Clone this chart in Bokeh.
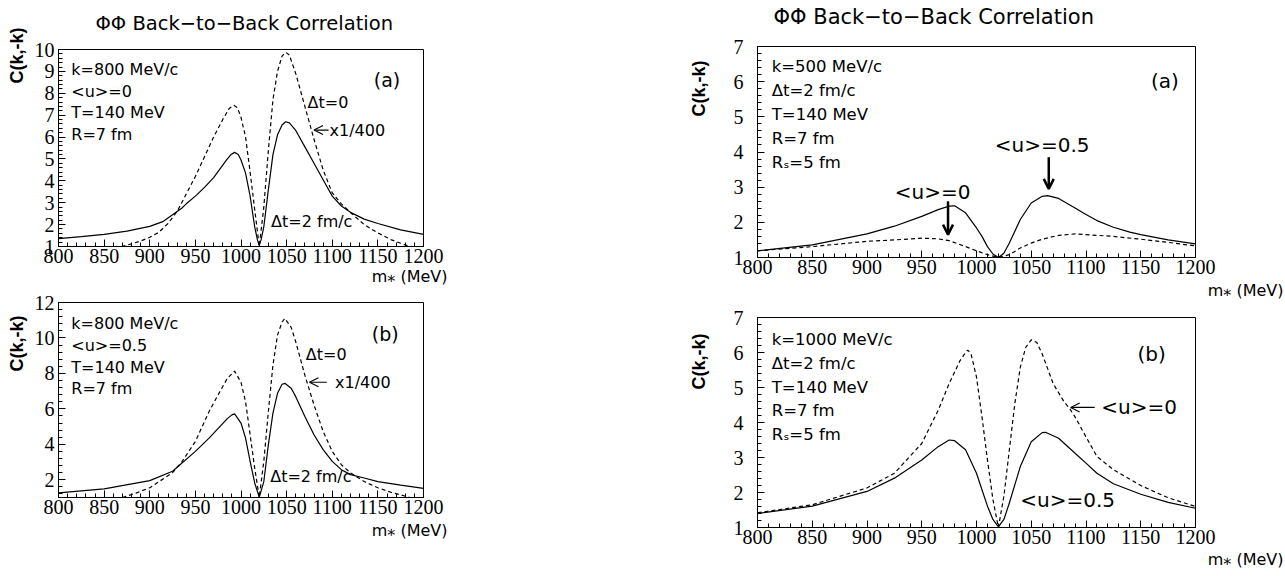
from bokeh.plotting import figure
from bokeh.layouts import row, column
from bokeh.models import Range1d, SingleIntervalTicker, Label, Arrow, OpenHead, Title
from bokeh.embed import file_html
from bokeh.resources import INLINE

# ---------------- data ----------------
# Left (a): k=800 MeV/c, <u>=0 ; solid = dt 2 fm/c, dashed = dt 0 (x1/400)
la_solid_x = [800, 825, 850, 875, 900, 915, 925, 935, 940, 950, 960, 970, 978, 984, 989, 993, 997, 1000,
              1005, 1010, 1015, 1018, 1020, 1022, 1025, 1030, 1035, 1040, 1045, 1049, 1053,
              1060, 1070, 1080, 1090, 1100, 1110, 1120, 1135, 1150, 1175, 1200]
la_solid_y = [1.36, 1.45, 1.55, 1.70, 1.92, 2.15, 2.45, 2.75, 2.95, 3.30, 3.70, 4.15, 4.60, 4.95, 5.20, 5.30, 5.20, 4.95,
              4.35, 3.30, 1.90, 1.30, 1.05, 1.30, 1.90, 3.60, 5.20, 6.10, 6.55, 6.70, 6.65,
              6.30, 5.55, 4.80, 4.05, 3.30, 2.85, 2.56, 2.25, 2.05, 1.76, 1.55]
la_dash_x = [869, 880, 890, 900, 910, 920, 930, 940, 950, 960, 970, 980, 987, 992, 996, 1000,
             1005, 1010, 1015, 1020, 1025, 1030, 1035, 1040, 1045, 1049, 1053, 1060, 1070, 1080,
             1090, 1100, 1110, 1120, 1135, 1150, 1165, 1175, 1185]
la_dash_y = [1.00, 1.12, 1.25, 1.42, 1.65, 2.05, 2.60, 3.40, 4.20, 5.10, 6.00, 6.80, 7.30, 7.45, 7.35, 6.90,
             6.00, 4.40, 2.70, 1.00, 2.80, 5.40, 7.70, 9.00, 9.70, 9.87, 9.75, 8.90, 7.40, 5.90,
             4.50, 3.45, 2.95, 2.55, 2.00, 1.62, 1.30, 1.15, 1.00]

# Left (b): k=800 MeV/c, <u>=0.5
lb_solid_x = [800, 850, 900, 925, 950, 965, 975, 985, 990, 993, 1000, 1005, 1010, 1015, 1020, 1025, 1030,
              1035, 1040, 1045, 1048, 1055, 1060, 1070, 1080, 1090, 1100, 1110, 1120, 1135, 1150,
              1175, 1200]
lb_solid_y = [1.26, 1.49, 1.95, 2.48, 3.60, 4.35, 4.90, 5.45, 5.66, 5.72, 5.20, 4.35, 3.04, 1.82, 1.02, 1.90, 3.98,
              5.76, 6.88, 7.39, 7.44, 7.16, 6.69, 5.57, 4.54, 3.70, 3.04, 2.57, 2.29, 2.10, 1.90,
              1.70, 1.52]
lb_dash_x = [870, 885, 900, 925, 935, 950, 965, 975, 985, 993, 1000, 1005, 1010, 1015, 1020, 1025,
             1030, 1035, 1040, 1045, 1048, 1055, 1060, 1070, 1080, 1090, 1100, 1110, 1120, 1135,
             1150, 1165, 1175, 1185]
lb_dash_y = [1.00, 1.25, 1.55, 2.40, 3.00, 4.16, 5.85, 6.80, 7.72, 8.13, 7.50, 6.40, 4.54, 2.67, 1.00, 3.04,
             5.85, 8.47, 10.16, 10.90, 11.10, 10.60, 9.78, 7.90, 6.22, 4.73, 3.60, 2.85, 2.39, 1.90,
             1.55, 1.28, 1.15, 1.00]

# Right (a): k=500 MeV/c, dt=2 fm/c ; solid = <u>=0.5, dashed = <u>=0
ra_x = [800, 850, 900, 925, 950, 965, 975, 980, 990, 1000, 1005, 1010, 1015, 1020, 1025, 1030,
        1040, 1050, 1060, 1065, 1075, 1090, 1100, 1110, 1125, 1140, 1150, 1175, 1200]
ra_solid_y = [1.19, 1.36, 1.67, 1.89, 2.17, 2.36, 2.46, 2.47, 2.27, 1.84, 1.60, 1.31, 1.10, 1.00, 1.12, 1.41,
              2.08, 2.55, 2.74, 2.76, 2.68, 2.41, 2.22, 2.05, 1.86, 1.72, 1.65, 1.50, 1.39]
ra_dash_x = [800, 850, 900, 925, 950, 965, 975, 990, 1000, 1010, 1020, 1030, 1040, 1050, 1060,
             1075, 1090, 1110, 1125, 1150, 1175, 1200]
ra_dash_y = [1.19, 1.31, 1.46, 1.50, 1.55, 1.53, 1.48, 1.31, 1.19, 1.08, 1.00, 1.08, 1.27, 1.41, 1.52,
             1.63, 1.67, 1.63, 1.60, 1.52, 1.43, 1.33]

# Right (b): k=1000 MeV/c, dt=2 fm/c
rb_solid_x = [800, 850, 900, 925, 950, 965, 975, 980, 990, 1000, 1005, 1010, 1015, 1020, 1025, 1030,
              1040, 1050, 1060, 1063, 1075, 1090, 1100, 1110, 1125, 1150, 1175, 1200]
rb_solid_y = [1.40, 1.61, 2.03, 2.41, 2.93, 3.31, 3.50, 3.48, 3.22, 2.55, 2.08, 1.61, 1.23, 1.02, 1.23, 1.70,
              2.74, 3.45, 3.71, 3.72, 3.55, 3.12, 2.84, 2.55, 2.25, 1.95, 1.72, 1.55]
rb_dash_x = [800, 850, 900, 925, 950, 965, 975, 985, 990, 992, 995, 1000, 1005, 1010, 1015, 1020,
             1025, 1030, 1035, 1040, 1045, 1050, 1055, 1060, 1070, 1080, 1085, 1090, 1100, 1110,
             1125, 1150, 1175, 1200]
rb_dash_y = [1.42, 1.65, 2.13, 2.55, 3.40, 4.35, 5.11, 5.77, 6.00, 6.07, 5.96, 5.30, 4.16, 2.93, 1.80, 1.00,
             1.89, 3.22, 4.54, 5.58, 6.15, 6.36, 6.29, 5.96, 5.11, 4.59, 4.40, 4.16, 3.59, 3.03,
             2.65, 2.20, 1.85, 1.60]

TITLE = "\u03a6\u03a6 Back\u2212to\u2212Back Correlation"
YLABEL = "C(k,-k)"
XLABEL = "m\u204e (MeV)"

SANS = "DejaVu Sans"
SERIF = "Liberation Serif"


def make_fig(width, height, bl, br, bt, bb, ymax, yint, ystand=4):
    p = figure(width=width, height=height, x_range=Range1d(800, 1200), y_range=Range1d(1, ymax),
               output_backend="svg", toolbar_location=None, title=None,
               min_border_left=bl, min_border_right=br, min_border_top=bt, min_border_bottom=bb)
    p.xgrid.visible = False
    p.ygrid.visible = False
    p.outline_line_color = "black"
    p.outline_line_width = 1
    p.outline_line_alpha = 1
    p.background_fill_color = "white"
    p.border_fill_color = "white"
    xa = p.xaxis[0]
    xa.ticker = SingleIntervalTicker(interval=50, num_minor_ticks=5)
    ya = p.yaxis[0]
    ya.ticker = SingleIntervalTicker(interval=yint, num_minor_ticks=5)
    for ax in (xa, ya):
        ax.major_tick_in = 7
        ax.major_tick_out = 0
        ax.minor_tick_in = 4
        ax.minor_tick_out = 0
        ax.axis_line_color = "black"
        ax.major_tick_line_color = "black"
        ax.minor_tick_line_color = "black"
        ax.major_label_text_font = SERIF
        ax.major_label_text_font_size = "20px"
        ax.major_label_text_color = "black"
    xa.major_label_standoff = 2
    ya.major_label_standoff = ystand
    return p


def frame_texts(p, title=None, title_size="18px", title_offset=0, title_gap=14,
                yl_offset=0, yl_standoff=6, xl_offset=0, xl_standoff=0, size="16px"):
    if title is not None:
        # empty spacer nearest the frame, then the real title further out
        p.add_layout(Title(text=" ", text_font_size="1px", standoff=title_gap), "above")
        p.add_layout(Title(text=title, align="left", text_font=SANS, text_font_size=title_size,
                           text_font_style="normal", text_color="black",
                           offset=title_offset, standoff=0), "above")
    p.add_layout(Title(text=YLABEL, align="right", text_font="Liberation Sans", text_font_size="18px",
                       text_font_style="bold", text_color="black",
                       offset=yl_offset, standoff=yl_standoff), "left")
    p.add_layout(Title(text=XLABEL, align="right", text_font=SANS, text_font_size=size,
                       text_font_style="normal", text_color="black",
                       offset=xl_offset, standoff=xl_standoff), "below")


def txt(p, x, y, s, size="16px", align="left"):
    p.add_layout(Label(x=x, y=y, text=s, text_font=SANS, text_font_size=size,
                       text_align=align, text_baseline="middle", text_color="black"))


def arrow(p, x0, y0, x1, y1, lw=1.2, size=9):
    p.add_layout(Arrow(x_start=x0, y_start=y0, x_end=x1, y_end=y1, line_width=lw,
                       line_color="black",
                       end=OpenHead(size=size, line_width=lw, line_color="black")))


def curves(p, sx, sy, dx, dy):
    p.line(sx, sy, line_color="black", line_width=1.2)
    p.line(dx, dy, line_color="black", line_width=1.2, line_dash="4 3")


# ---------------- left column ----------------
f1 = make_fig(640, 292, 56, 217, 49, 46, 10, 1)
curves(f1, la_solid_x, la_solid_y, la_dash_x, la_dash_y)
frame_texts(f1, TITLE, "19.5px", 37, 12, -22, 9, -24, -2, "16px")
for i, s in enumerate(["k=800 MeV/c", "<u>=0", "T=140 MeV", "R=7 fm"]):
    txt(f1, 814, 9.1 - i * 1.0, s)
txt(f1, 1160, 8.62, "(a)", size="19px", align="center")
txt(f1, 1073, 7.6, "\u0394t=0")
arrow(f1, 1096, 6.32, 1080, 6.32)
txt(f1, 1097, 6.32, "x1/400")
txt(f1, 1033, 2.15, "\u0394t=2 fm/c")

f2 = make_fig(640, 284, 56, 217, 10, 79, 12, 2)
curves(f2, lb_solid_x, lb_solid_y, lb_dash_x, lb_dash_y)
frame_texts(f2, None, yl_offset=13, yl_standoff=9, xl_offset=-24, xl_standoff=5, size="16px")
for i, s in enumerate(["k=800 MeV/c", "<u>=0.5", "T=140 MeV", "R=7 fm"]):
    txt(f2, 814, 10.8 - i * 1.22, s)
txt(f2, 1158, 10.24, "(b)", size="19px", align="center")
txt(f2, 1071, 9.07, "\u0394t=0")
arrow(f2, 1094, 7.5, 1075, 7.5)
txt(f2, 1103, 7.5, "x1/400")
txt(f2, 1032, 2.2, "\u0394t=2 fm/c")

# ---------------- right column ----------------
f3 = make_fig(645, 305, 117, 90, 46, 48, 7, 1, ystand=14)
curves(f3, ra_x, ra_solid_y, ra_dash_x, ra_dash_y)
frame_texts(f3, TITLE, "21px", 16, 15, 14, 44, -88, 4, "16px")
for i, s in enumerate(["k=500 MeV/c", "\u0394t=2 fm/c", "T=140 MeV", "R=7 fm", "R\u209b=5 fm"]):
    txt(f3, 813, 6.42 - i * 0.68, s, size="16.5px")
txt(f3, 1172, 6.03, "(a)", size="20px", align="center")
txt(f3, 1060, 4.2, "<u>=0.5", size="20px", align="center")
arrow(f3, 1066, 3.85, 1066, 2.95, lw=2.5, size=10)
txt(f3, 960, 2.86, "<u>=0", size="20px", align="center")
arrow(f3, 974, 2.6, 974, 1.65, lw=2.5, size=10)

f4 = make_fig(645, 271, 117, 90, 12, 49, 7, 1, ystand=14)
curves(f4, rb_solid_x, rb_solid_y, rb_dash_x, rb_dash_y)
frame_texts(f4, None, yl_offset=16, yl_standoff=44, xl_offset=-88, xl_standoff=3, size="16px")
for i, s in enumerate(["k=1000 MeV/c", "\u0394t=2 fm/c", "T=140 MeV", "R=7 fm", "R\u209b=5 fm"]):
    txt(f4, 813, 6.37 - i * 0.68, s, size="16.5px")
txt(f4, 1160, 5.97, "(b)", size="20px", align="center")
arrow(f4, 1108, 4.43, 1086, 4.43)
txt(f4, 1114, 4.43, "<u>=0", size="20px")
txt(f4, 1040, 1.8, "<u>=0.5", size="20px")

layout = row(column(f1, f2), column(f3, f4))
open("out.html", "w").write(file_html(layout, INLINE))
